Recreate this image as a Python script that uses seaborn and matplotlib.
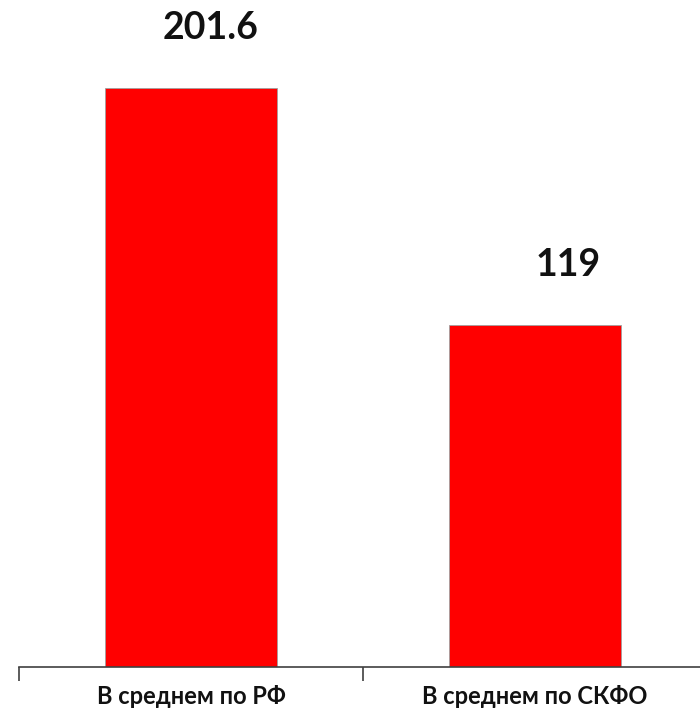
import matplotlib
matplotlib.use("Agg")
import matplotlib.pyplot as plt
import seaborn as sns
import pandas as pd

categories = ["В среднем по РФ", "В среднем по СКФО"]
values = [201.6, 119]
value_labels = ["201.6", "119"]

sns.set_theme(style="white")
plt.rcParams['font.family'] = ['Lato', 'DejaVu Sans']

W, H = 700, 710
fig = plt.figure(figsize=(W / 100, H / 100), dpi=100)
ax = fig.add_axes([19 / W, (H - 667) / H, (707 - 19) / W, 667 / H])

df = pd.DataFrame({"cat": categories, "val": values})
sns.barplot(data=df, x="cat", y="val", color="#ff0000", saturation=1, width=0.5,
            edgecolor="#a0a0a0", linewidth=0.6, ax=ax)

ax.set_xlim(-0.5, 1.5)
ax.set_ylim(0, 232.2)
for s in ["top", "right", "left"]:
    ax.spines[s].set_visible(False)
ax.spines["bottom"].set_color("#404040")
ax.spines["bottom"].set_linewidth(1.2)
ax.set_yticks([])
ax.set_xlabel("")
ax.set_ylabel("")

ax.set_xticks([0, 1])
ax.set_xticklabels(categories, fontsize=17, fontweight="bold", color="#111111")
ax.tick_params(axis="x", which="major", length=0, pad=13)
ax.set_xticks([-0.5, 0.5, 1.5], minor=True)
ax.tick_params(axis="x", which="minor", length=10, width=1.2, color="#404040", direction="out", bottom=True)

label_dx = [14, 24]  # horizontal offsets in points, as in the reference
for i, (v, lab) in enumerate(zip(values, value_labels)):
    ax.annotate(lab, xy=(i, v), xytext=(label_dx[i], 43), textcoords="offset points",
                ha="center", va="center", fontsize=27, fontweight="bold", color="#111111",
                annotation_clip=False)

fig.savefig("out.png", dpi=100)
